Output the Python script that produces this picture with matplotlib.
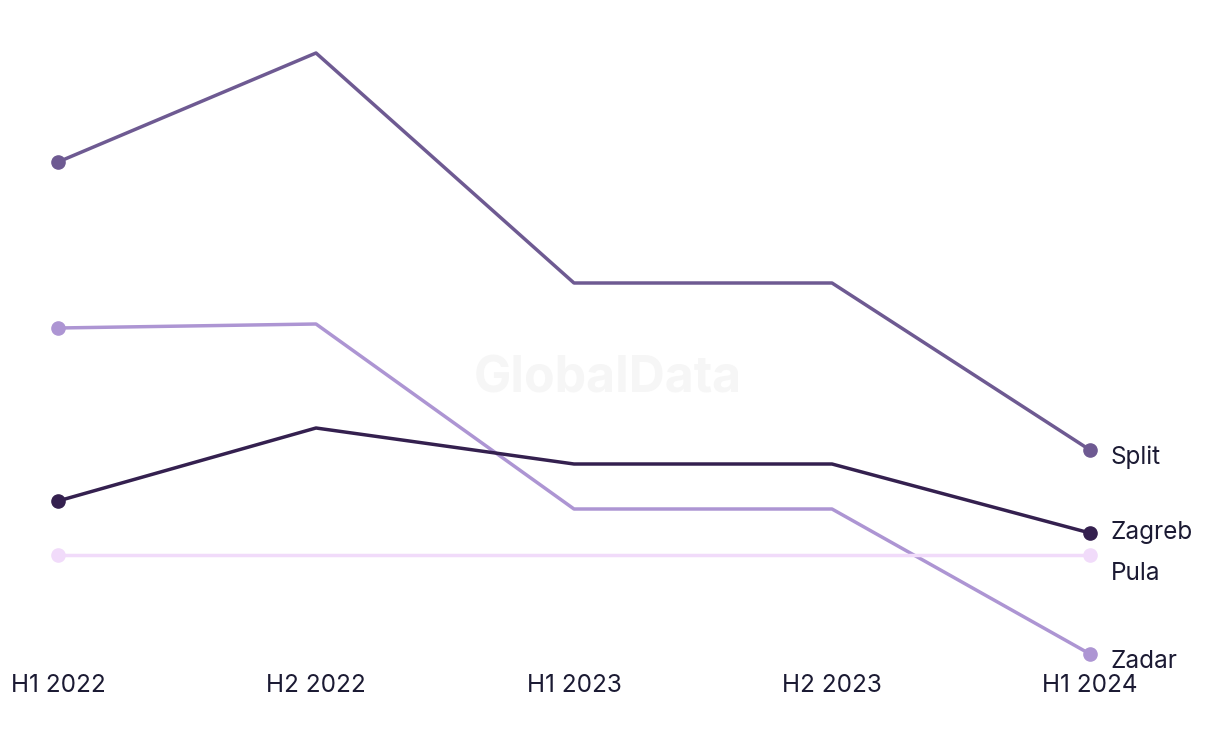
import matplotlib
matplotlib.use("Agg")
import matplotlib.pyplot as plt

periods = ["H1 2022", "H2 2022", "H1 2023", "H2 2023", "H1 2024"]
split = [53.8, 64.7, 41.7, 41.7, 25.0]
zadar = [37.2, 37.6, 19.1, 19.1, 4.6]
zagreb = [19.9, 27.2, 23.6, 23.6, 16.7]
pula = [14.5, 14.5, 14.5, 14.5, 14.5]

series = [
    ("Split", split, "#6e5a92", 24.3),
    ("Zadar", zadar, "#ad95d3", 3.8),
    ("Pula", pula, "#f1dbfa", 12.6),
    ("Zagreb", zagreb, "#34204f", 16.7),
]

plt.rcParams["font.family"] = ["Inter", "DejaVu Sans"]
text_col = "#1b1a33"

fig = plt.figure(figsize=(12.2, 7.44), dpi=100)
ax = fig.add_axes([58 / 1220, 0, (1090 - 58) / 1220, 1])
ax.set_xlim(0, 4)
ax.set_ylim(-4.4, 70)
ax.axis("off")

ax.text(2.13, 32.1, "GlobalData", ha="center", va="center", fontsize=36,
        fontweight="bold", color="#f6f6f6", zorder=0)

x = list(range(len(periods)))
for name, vals, col, ly in series:
    ax.plot(x, vals, color=col, lw=2.5, zorder=2, clip_on=False)
    ax.plot([x[0], x[-1]], [vals[0], vals[-1]], "o", color=col, ms=9.5,
            zorder=3, clip_on=False)
    ax.text(4.08, ly, name, ha="left", va="center", fontsize=17.5,
            color=text_col, clip_on=False)

for i, p in enumerate(periods):
    ax.text(i, 1.4, p, ha="center", va="center", fontsize=17.5, color=text_col)

fig.savefig("out.png", dpi=100)
